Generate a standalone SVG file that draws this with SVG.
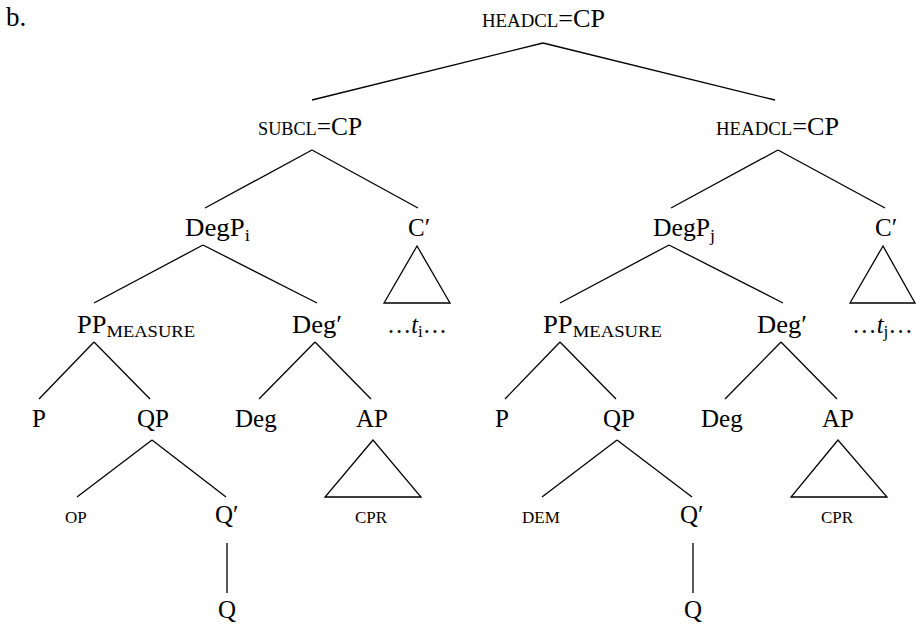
<svg xmlns="http://www.w3.org/2000/svg" width="916" height="625" viewBox="0 0 916 625">
<style>
text{font-family:"Liberation Serif","Times New Roman",serif;font-size:25px;fill:#000}
.sc{font-size:18px}
.sm{font-size:17px}
.sub{font-size:17.5px}
.it{font-style:italic}
#connectors line,#connectors polygon{stroke:#000;stroke-width:1.3;fill:none}
</style>
<rect width="916" height="625" fill="#fff"/>
<text x="6" y="26" style="font-size:27px">b.</text>
<g id="connectors">
<line x1="543" y1="43" x2="312" y2="100"/>
<line x1="543" y1="43" x2="775" y2="100"/>
<line x1="312" y1="150" x2="205" y2="208"/>
<line x1="312" y1="150" x2="418" y2="208"/>
<line x1="778" y1="150" x2="671" y2="208"/>
<line x1="778" y1="150" x2="885" y2="208"/>
<line x1="203" y1="245" x2="94" y2="303"/>
<line x1="203" y1="245" x2="317" y2="303"/>
<polygon points="417,246 384,303 450,303"/>
<line x1="669" y1="245" x2="560" y2="303"/>
<line x1="669" y1="245" x2="783" y2="303"/>
<polygon points="883,246 850,303 915,303"/>
<line x1="94" y1="342" x2="39" y2="399"/>
<line x1="94" y1="342" x2="150" y2="399"/>
<line x1="315" y1="342" x2="259" y2="399"/>
<line x1="315" y1="342" x2="371" y2="399"/>
<line x1="560" y1="342" x2="505" y2="399"/>
<line x1="560" y1="342" x2="616" y2="399"/>
<line x1="781" y1="342" x2="725" y2="399"/>
<line x1="781" y1="342" x2="837" y2="399"/>
<line x1="152" y1="440" x2="77" y2="497"/>
<line x1="152" y1="440" x2="226" y2="497"/>
<polygon points="373,440 325,497 421,497"/>
<line x1="617" y1="440" x2="542" y2="497"/>
<line x1="617" y1="440" x2="692" y2="497"/>
<polygon points="838,440 791,497 887,497"/>
<line x1="227" y1="543" x2="227" y2="593"/>
<line x1="693" y1="543" x2="693" y2="593"/>
</g>
<g id="root"><text x="482" y="27" textLength="123" lengthAdjust="spacingAndGlyphs"><tspan class="sc">HEADCL</tspan>=CP</text></g>
<g id="subcl"><text x="258" y="135" textLength="104" lengthAdjust="spacingAndGlyphs"><tspan class="sc">SUBCL</tspan>=CP</text></g>
<g id="headcl2"><text x="716" y="135" textLength="123" lengthAdjust="spacingAndGlyphs"><tspan class="sc">HEADCL</tspan>=CP</text></g>
<g id="degp-i"><text x="185" y="236" textLength="65" lengthAdjust="spacingAndGlyphs">DegP<tspan class="sub" dy="5">i</tspan></text></g>
<g id="cbar-l"><text x="408" y="236">C′</text></g>
<g id="degp-j"><text x="653" y="236" textLength="62" lengthAdjust="spacingAndGlyphs">DegP<tspan class="sub" dy="5">j</tspan></text></g>
<g id="cbar-r"><text x="875" y="236">C′</text></g>
<g id="pp-l"><text x="77" y="333" textLength="118" lengthAdjust="spacingAndGlyphs">PP<tspan class="sub" dy="4">MEASURE</tspan></text></g>
<g id="degbar-l"><text x="292" y="333" textLength="50" lengthAdjust="spacingAndGlyphs">Deg′</text></g>
<g id="trace-i"><text x="387" y="333" textLength="60" lengthAdjust="spacingAndGlyphs">…<tspan class="it">t</tspan><tspan class="sub" dy="4">i</tspan><tspan dy="-4">…</tspan></text></g>
<g id="pp-r"><text x="543" y="333" textLength="119" lengthAdjust="spacingAndGlyphs">PP<tspan class="sub" dy="4">MEASURE</tspan></text></g>
<g id="degbar-r"><text x="757" y="333" textLength="50" lengthAdjust="spacingAndGlyphs">Deg′</text></g>
<g id="trace-j"><text x="852" y="333" textLength="61" lengthAdjust="spacingAndGlyphs">…<tspan class="it">t</tspan><tspan class="sub" dy="4">j</tspan><tspan dy="-4">…</tspan></text></g>
<g id="p-l"><text x="32" y="427">P</text></g>
<g id="qp-l"><text x="137" y="427">QP</text></g>
<g id="deg-l"><text x="235" y="427">Deg</text></g>
<g id="ap-l"><text x="356" y="427">AP</text></g>
<g id="p-r"><text x="495" y="427">P</text></g>
<g id="qp-r"><text x="603" y="427">QP</text></g>
<g id="deg-r"><text x="701" y="427">Deg</text></g>
<g id="ap-r"><text x="822" y="427">AP</text></g>
<g id="op"><text class="sm" x="65" y="523">OP</text></g>
<g id="qbar-l"><text x="215" y="523">Q′</text></g>
<g id="cpr-l"><text class="sm" x="355" y="523">CPR</text></g>
<g id="dem"><text class="sm" x="522" y="523">DEM</text></g>
<g id="qbar-r"><text x="680" y="523">Q′</text></g>
<g id="cpr-r"><text class="sm" x="821" y="523">CPR</text></g>
<g id="q-l"><text x="218" y="618">Q</text></g>
<g id="q-r"><text x="684" y="618">Q</text></g>
</svg>
